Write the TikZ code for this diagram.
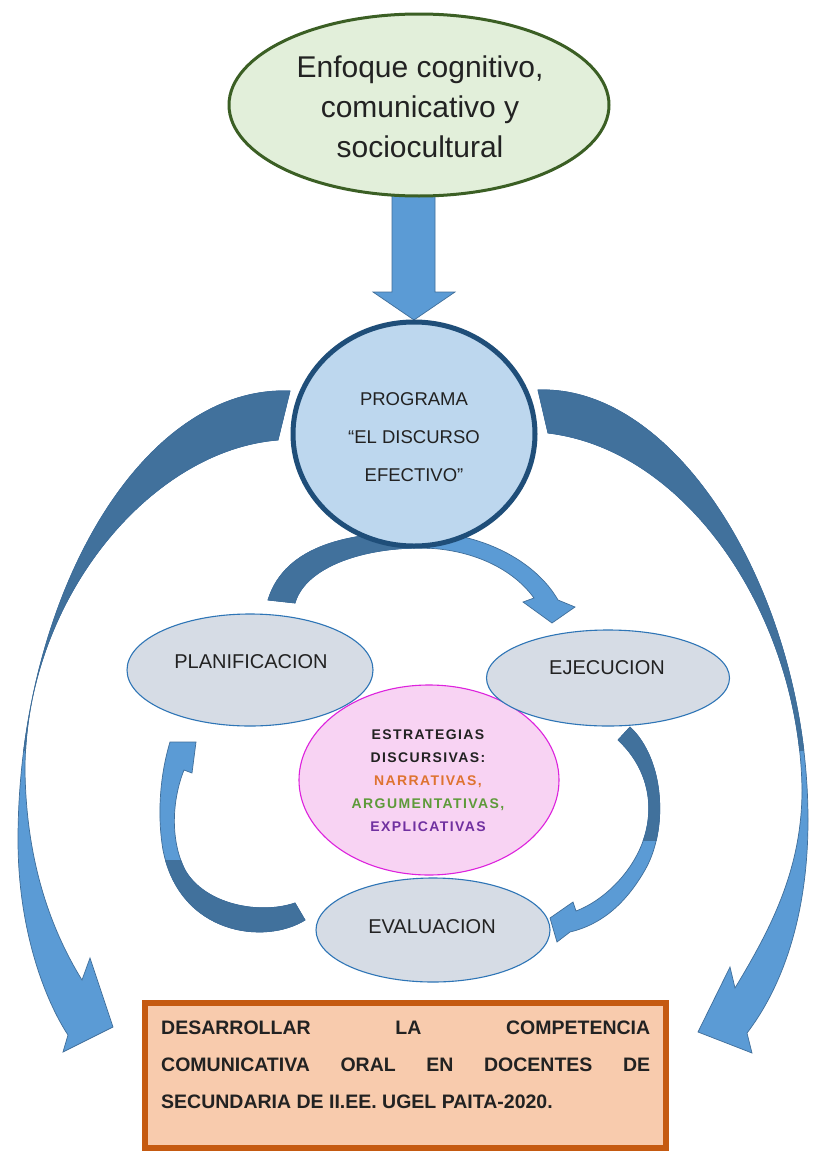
\documentclass[tikz,border=0pt]{standalone}
\usepackage{fontspec}
\setmainfont{Liberation Sans}
\newfontfamily\spacedfont{Liberation Sans}[LetterSpace=10]
\usetikzlibrary{shapes.geometric}
\definecolor{arrowlight}{HTML}{5B9BD5}
\definecolor{arrowdark}{HTML}{41719C}
\definecolor{arrowedge}{HTML}{3F6E9A}
\definecolor{topfill}{HTML}{E2EFDA}
\definecolor{topedge}{HTML}{3B5F24}
\definecolor{progfill}{HTML}{BDD7EE}
\definecolor{progedge}{HTML}{1F4E79}
\definecolor{greyfill}{HTML}{D6DCE5}
\definecolor{greyedge}{HTML}{2E75B6}
\definecolor{pinkfill}{HTML}{F8D3F3}
\definecolor{pinkedge}{HTML}{DD22DD}
\definecolor{boxfill}{HTML}{F8CBAD}
\definecolor{boxedge}{HTML}{C55A11}
\definecolor{txt}{HTML}{222222}
\definecolor{narr}{HTML}{DE7330}
\definecolor{argu}{HTML}{5E9A3A}
\definecolor{expl}{HTML}{7030A0}
\begin{document}
\begin{tikzpicture}[x=1pt,y=-1pt,
  lightpart/.style={fill=arrowlight, draw=arrowedge, line width=0.7pt},
  darkpart/.style={fill=arrowdark, draw=arrowedge, line width=0.7pt},
  greyell/.style={ellipse, draw=greyedge, fill=greyfill, line width=1.1pt, inner sep=0pt},
  lbl/.style={text=txt, inner sep=0pt},
  goaltxt/.style={text=txt, inner sep=0pt, anchor=base west, font=\fontsize{19.5}{23}\selectfont\bfseries}
]
\useasboundingbox (0,0) rectangle (813,1151);
\clip (0,0) rectangle (813,1151);
\fill[white] (0,0) rectangle (813,1151);

% down arrow
\draw[lightpart] (392,185) -- (435,185) -- (435,292) -- (455,292) -- (414,320) -- (373,292) -- (392,292) -- cycle;

% top ellipse
\node[ellipse, draw=topedge, fill=topfill, line width=3pt, minimum width=380pt, minimum height=182pt, inner sep=0pt] (enfoque) at (419,105) {};
\node[lbl, align=center, font=\fontsize{30}{40}\selectfont] (enfoquetxt) at (420,107) {Enfoque cognitivo,\\comunicativo y\\sociocultural};

% big left arrow
\path[save path=\pL] (290,391) .. controls (140,385) and (18,600) .. (18,840) .. controls (18,930) and (45,1000) .. (68,1035) -- (63,1052) -- (113,1027) -- (90,958) -- (82,980) .. controls (45,920) and (26,850) .. (25,770) .. controls (25,600) and (150,450) .. (278,440) -- cycle;
\path[lightpart, use path=\pL];
\begin{scope}
\clip (0,0) rectangle (813,750);
\path[darkpart, use path=\pL];
\end{scope}

% big right arrow
\path[save path=\pR] (538,390) .. controls (680,385) and (808,600) .. (808,820) .. controls (808,920) and (780,990) .. (747,1033) -- (752,1053) -- (698,1032) -- (730,967) -- (735,988) .. controls (770,930) and (802,870) .. (802,790) .. controls (800,620) and (690,450) .. (548,433) -- cycle;
\path[lightpart, use path=\pR];
\begin{scope}
\clip (0,0) rectangle (813,750);
\path[darkpart, use path=\pR];
\end{scope}

% top small arc arrow
\path[save path=\pT] (268,600) .. controls (285,545) and (350,532) .. (420,532) .. controls (480,532) and (535,560) .. (558,600) -- (575,607) -- (552,623) -- (523,602) -- (534,598) .. controls (510,565) and (465,548) .. (420,548) .. controls (360,548) and (305,568) .. (295,603) -- cycle;
\path[lightpart, use path=\pT];
\begin{scope}
\clip (0,0) rectangle (430,1151);
\path[darkpart, use path=\pT];
\end{scope}

% program circle
\node[ellipse, draw=progedge, fill=progfill, line width=5pt, minimum width=242pt, minimum height=224pt, inner sep=0pt] (programa) at (414,434) {};
\node[lbl, align=center, font=\fontsize{18.5}{38}\selectfont] (programatxt) at (414,437) {PROGRAMA\\“EL DISCURSO\\EFECTIVO”};

% left cycle arrow
\path[save path=\pLC] (305,920) .. controls (265,945) and (180,935) .. (163,850) .. controls (157,815) and (160,775) .. (170,742) -- (196,742) -- (192,773) -- (184,770) .. controls (172,800) and (170,840) .. (185,870) .. controls (205,905) and (260,915) .. (295,903) -- cycle;
\path[lightpart, use path=\pLC];
\begin{scope}
\clip (0,860) rectangle (813,1151);
\path[darkpart, use path=\pLC];
\end{scope}

% right cycle arrow
\path[save path=\pRC] (630,727) .. controls (665,760) and (668,830) .. (645,870) .. controls (625,905) and (600,925) .. (570,932) -- (557,942) -- (550,918) -- (573,902) -- (576,911) .. controls (605,900) and (635,870) .. (645,835) .. controls (655,800) and (645,765) .. (618,740) -- cycle;
\path[lightpart, use path=\pRC];
\begin{scope}
\clip (0,0) rectangle (813,840);
\path[darkpart, use path=\pRC];
\end{scope}

% strategies ellipse
\node[ellipse, draw=pinkedge, fill=pinkfill, line width=1.1pt, minimum width=260pt, minimum height=190pt, inner sep=0pt] (estrategias) at (429,780) {};
\node[lbl, align=center, font=\spacedfont\bfseries\fontsize{14}{23}\selectfont] (estrtxt) at (428,781) {ESTRATEGIAS\\DISCURSIVAS:\\\textcolor{narr}{NARRATIVAS,}\\\textcolor{argu}{ARGUMENTATIVAS,}\\\textcolor{expl}{EXPLICATIVAS}};

% stage ellipses
\node[greyell, minimum width=246pt, minimum height=112pt] (plan) at (250,670) {};
\node[lbl, font=\fontsize{20}{24}\selectfont] (plantxt) at (251,662) {PLANIFICACION};
\node[greyell, minimum width=243pt, minimum height=96pt] (ejec) at (608,678) {};
\node[lbl, font=\fontsize{20}{24}\selectfont] (ejectxt) at (607,668) {EJECUCION};
\node[greyell, minimum width=234pt, minimum height=104pt] (eval) at (433,930) {};
\node[lbl, font=\fontsize{20}{24}\selectfont] (evaltxt) at (432,927) {EVALUACION};

% goal box
\node[draw=boxedge, fill=boxfill, line width=6pt, minimum width=521pt, minimum height=145pt, inner sep=0pt] (goal) at (405.5,1075.5) {};
\node[goaltxt] (g1) at (161,1034) {\makebox[489pt][s]{DESARROLLAR\hfill LA\hfill COMPETENCIA}};
\node[goaltxt] (g2) at (161,1071) {\makebox[489pt][s]{COMUNICATIVA\hfill ORAL\hfill EN\hfill DOCENTES\hfill DE}};
\node[goaltxt] (g3) at (161,1108) {SECUNDARIA DE II.EE. UGEL PAITA-2020.};
\end{tikzpicture}
\end{document}
